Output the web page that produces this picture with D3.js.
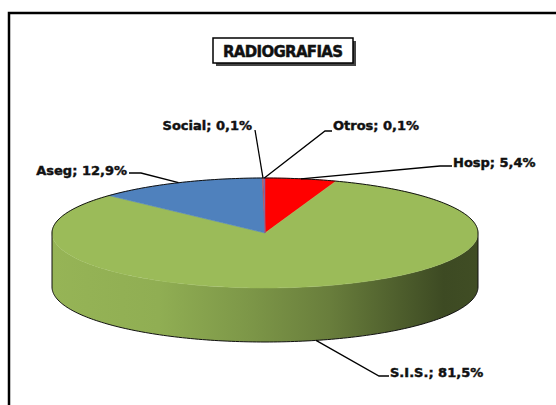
<!DOCTYPE html>
<html>
<head>
<meta charset="utf-8">
<script src="https://cdn.jsdelivr.net/npm/d3@7"></script>
<style>
	body { margin: 0; background: #fff; }
	svg text { font-family: "DejaVu Sans", Verdana, sans-serif; font-weight: bold; fill: #111; stroke: #111; stroke-width: 0.45px; }
</style>
</head>
<body>
<svg id="chart"></svg>
<script>
var categories = [ "Hosp", "S.I.S.", "Aseg", "Social", "Otros" ];
var values     = [ 5.4, 81.5, 12.9, 0.1, 0.1 ];
var colors     = [ "#ff0000", "#9bbb59", "#4f81bd", "#c0504d", "#8064a2" ];
var title      = "RADIOGRAFIAS";

// label placement: text anchor point, text-anchor, knee of the leader line
var label_layout = [
	{ x : 453, y : 167, anchor : "start", knee : [ 440, 166 ], end : [ 452, 166 ], side : false },
	{ x : 390, y : 377, anchor : "start", knee : [ 379, 376 ], end : [ 389, 376 ], side : true  },
	{ x : 127, y : 175, anchor : "end",   knee : [ 141, 173 ], end : [ 129, 173 ], side : false },
	{ x : 252, y : 130, anchor : "end",   knee : [ 255, 130 ], end : [ 255, 130 ], side : false },
	{ x : 333, y : 130, anchor : "start", knee : [ 325, 131 ], end : [ 332, 131 ], side : false }
];

var W = 556, H = 405;
var cx = 265, cy = 233, rx = 213, ry = 55, depth = 54;

var svg = d3.select( "#chart" )
	.attr( "width", W )
	.attr( "height", H );

svg.append( "rect" )
	.attr( "width", W ).attr( "height", H )
	.attr( "fill", "#fff" );

// chart frame (runs off the right and bottom)
svg.append( "rect" )
	.attr( "x", 9 ).attr( "y", 13 )
	.attr( "width", 570 ).attr( "height", 420 )
	.attr( "fill", "none" )
	.attr( "stroke", "#000" )
	.attr( "stroke-width", 2.5 );

// title box with shadow
var tb = { x : 213, y : 38, w : 140, h : 25 };
svg.append( "rect" )
	.attr( "x", tb.x + 3 ).attr( "y", tb.y + 3 )
	.attr( "width", tb.w ).attr( "height", tb.h )
	.attr( "fill", "#444" );
svg.append( "rect" )
	.attr( "x", tb.x ).attr( "y", tb.y )
	.attr( "width", tb.w ).attr( "height", tb.h )
	.attr( "fill", "#fff" )
	.attr( "stroke", "#000" )
	.attr( "stroke-width", 1.5 );
svg.append( "text" )
	.attr( "x", tb.x + tb.w / 2 ).attr( "y", tb.y + 18.5 )
	.attr( "text-anchor", "middle" )
	.attr( "textLength", 120 )
	.style( "font-size", "15px" )
	.text( title );

var pie = d3.pie().sort( null ).startAngle( 0 ).endAngle( 2 * Math.PI );
var arcs = pie( values );

function pt( a, dy ){
	return [ cx + rx * Math.sin( a ), cy - ry * Math.cos( a ) + ( dy || 0 ) ];
}

function ellipse_points( a0, a1, dy ){
	var n = Math.max( 2, Math.ceil( ( a1 - a0 ) / 0.02 ) );
	var pts = [];
	for( var i = 0; i <= n; i++ ) pts.push( pt( a0 + ( a1 - a0 ) * i / n, dy ) );
	return pts;
}

var line = d3.line();
var defs = svg.append( "defs" );

// side gradients, darker towards the right
var grad_stops = [ [ 0, 0.1 ], [ 0.25, 0.2 ], [ 0.46, 0.6 ], [ 0.65, 1.1 ], [ 0.82, 1.95 ], [ 0.92, 2.6 ], [ 1, 2.5 ] ];
arcs.forEach(function( d, i ){
	var g = defs.append( "linearGradient" )
		.attr( "id", "side" + i )
		.attr( "gradientUnits", "userSpaceOnUse" )
		.attr( "x1", cx - rx ).attr( "x2", cx + rx )
		.attr( "y1", 0 ).attr( "y2", 0 );
	grad_stops.forEach(function( s ){
		g.append( "stop" )
			.attr( "offset", s[0] )
			.attr( "stop-color", d3.color( colors[i] ).darker( s[1] ).formatHex() );
	});
});

// side faces: only the front half (angles between PI/2 and 3PI/2) shows
var sides = svg.append( "g" );
arcs.forEach(function( d, i ){
	var s = Math.max( d.startAngle, Math.PI / 2 );
	var e = Math.min( d.endAngle, 3 * Math.PI / 2 );
	if( e <= s ) return;
	var top = ellipse_points( s, e, 0 );
	var bot = ellipse_points( s, e, depth ).reverse();
	sides.append( "path" )
		.attr( "d", line( top.concat( bot ) ) + "Z" )
		.attr( "fill", "url(#side" + i + ")" );
});

// top faces
var tops = svg.append( "g" );
arcs.forEach(function( d, i ){
	var pts = [ [ cx, cy ] ].concat( ellipse_points( d.startAngle, d.endAngle, 0 ) );
	tops.append( "path" )
		.attr( "d", line( pts ) + "Z" )
		.attr( "fill", colors[i] )
		.attr( "stroke", colors[i] )
		.attr( "stroke-width", 0.5 );
});

// outline of the disc
var outline = svg.append( "g" )
	.attr( "fill", "none" )
	.attr( "stroke", "#111" )
	.attr( "stroke-width", 1 );
outline.append( "path" )
	.attr( "d", line( ellipse_points( -Math.PI / 2, Math.PI / 2, 0 ) ) );
outline.append( "path" )
	.attr( "d", line( [ pt( Math.PI / 2, 0 ) ].concat( ellipse_points( Math.PI / 2, 3 * Math.PI / 2, depth ) ).concat( [ pt( 3 * Math.PI / 2, 0 ) ] ) ) );

// labels with leader lines
var labels = svg.append( "g" );
arcs.forEach(function( d, i ){
	var L = label_layout[i];
	var mid = ( d.startAngle + d.endAngle ) / 2;
	var a = pt( mid, L.side ? depth : 0 );
	labels.append( "path" )
		.attr( "d", line( [ a, L.knee, L.end ] ) )
		.attr( "fill", "none" )
		.attr( "stroke", "#000" )
		.attr( "stroke-width", 1.3 );
	labels.append( "text" )
		.attr( "x", L.x ).attr( "y", L.y )
		.attr( "text-anchor", L.anchor )
		.style( "font-size", "13px" )
		.text( categories[i] + "; " + values[i].toFixed( 1 ).replace( ".", "," ) + "%" );
});
</script>
</body>
</html>
